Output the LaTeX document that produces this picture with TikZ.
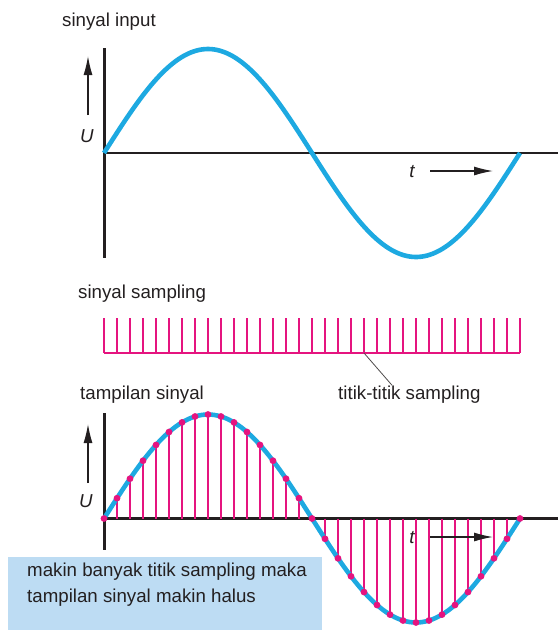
\documentclass[tikz,border=0pt]{standalone}
\usepackage{fontspec}
\setmainfont{Liberation Sans}
\usetikzlibrary{arrows.meta}
\definecolor{sigblue}{HTML}{1DA9E1}
\definecolor{sampink}{HTML}{E5147F}
\definecolor{boxblue}{HTML}{BDDCF3}
\definecolor{inkc}{HTML}{231F20}

\begin{document}
\begin{tikzpicture}[x=1pt, y=-1pt, font=\fontsize{18.7}{26}\selectfont, text=inkc,
  axisline/.style={draw=inkc, line width=2.2pt},
  dirarrow/.style={draw=inkc, line width=1.3pt, -{Latex[length=19pt,width=9pt]}},
  title/.style={anchor=base west, inner sep=0pt},
  varlbl/.style={anchor=base, inner sep=0pt, font=\fontsize{18.7}{26}\selectfont\itshape},
  wave/.style={draw=sigblue, line width=4.6pt},
  stem/.style={draw=sampink, line width=1.3pt}]
\useasboundingbox (0,0) rectangle (558,630);

% ---- input signal ----
\node[title] (inputlbl) at (62,26) {sinyal input};
\draw[axisline] (104.5,48) -- (104.5,258);
\draw[axisline] (104.5,153) -- (558,153);
\draw[wave] plot[domain=0:416, samples=140] (104+\x, {153-104*sin(0.865385*\x)});
\node[varlbl] (uin) at (87,142) {U};
\coordinate (uinfrom) at (88,115); \coordinate (uinto) at (88,56);
\draw[dirarrow] (uinfrom) -- (uinto);
\node[varlbl] (tin) at (412,177) {t};
\coordinate (tinfrom) at (430,171); \coordinate (tinto) at (493,171);
\draw[dirarrow] (tinfrom) -- (tinto);

% ---- sampling comb : 33 ticks, 13 apart ----
\node[title] (samplbl) at (78,298) {sinyal sampling};
\draw[stem] (104,353) -- (520,353);
\foreach \k in {0,...,32}{\draw[stem] (104+13*\k,318) -- (104+13*\k,353);}
\coordinate (tick20) at (364,353);
\node[title] (pointlbl) at (338,399) {titik-titik sampling};
\draw[inkc!80, line width=0.8pt] (tick20) -- ([xshift=54pt]pointlbl.north west);

% ---- sampled signal ----
\node[title] (showlbl) at (80,399) {tampilan sinyal};
\draw[axisline] (104.5,413) -- (104.5,550);
\draw[axisline] (104.5,518.5) -- (558,518.5);
\foreach \k [evaluate=\k as \py using 518.5-104*sin(11.25*\k)] in {0,...,32}
  {\draw[stem] (104+13*\k,518.5) -- (104+13*\k,\py);}
\draw[wave] plot[domain=0:416, samples=140] (104+\x, {518.5-104*sin(0.865385*\x)});
\foreach \k [evaluate=\k as \py using 518.5-104*sin(11.25*\k)] in {0,...,32}
  {\fill[sampink] (104+13*\k,\py) circle (3.4pt);}
\node[varlbl] (uout) at (86,507) {U};
\coordinate (uoutfrom) at (88,483); \coordinate (uoutto) at (88,424);
\draw[dirarrow] (uoutfrom) -- (uoutto);
\node[varlbl] (tout) at (412,543) {t};
\coordinate (toutfrom) at (430,537); \coordinate (toutto) at (493,537);
\draw[dirarrow] (toutfrom) -- (toutto);

% ---- note box ----
\fill[boxblue] (8,557) rectangle (322,630);
\node[anchor=north west, inner sep=0pt, align=left] (note) at (27,562.5)
  {makin banyak titik sampling maka\\tampilan sinyal makin halus};
\end{tikzpicture}
\end{document}
